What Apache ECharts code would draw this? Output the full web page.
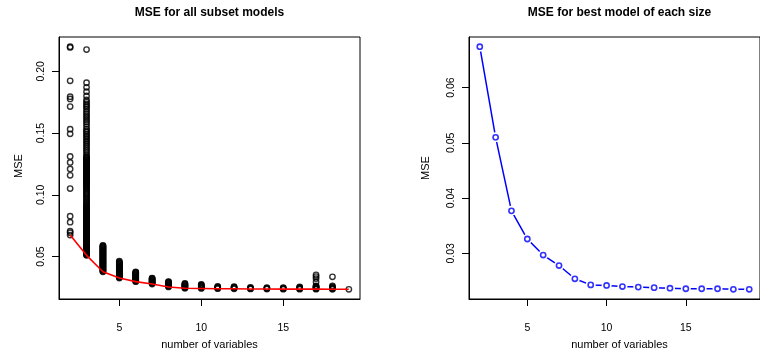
<!DOCTYPE html>
<html><head><meta charset="utf-8">
<script src="https://cdn.jsdelivr.net/npm/echarts@6/dist/echarts.min.js"></script>
<style>html,body{margin:0;padding:0;background:#fff}#c{width:760px;height:353px}</style>
</head><body><div id="c"></div><script>
// ---- data ----
const numVars = [2,3,4,5,6,7,8,9,10,11,12,13,14,15,16,17,18,19];
const bestMSE = [0.0674,0.0510,0.0377,0.0326,0.0297,0.0278,0.0254,0.0243,0.0242,0.0240,0.0239,0.0238,0.0237,0.0236,0.0236,0.0236,0.0235,0.0235];

const mseSize2 = [0.2200,0.2194,0.1924,0.1795,0.1777,0.1715,0.1532,0.1494,0.1311,0.1263,0.1210,0.1158,0.1051,0.0827,0.0779,0.0706,0.0694,0.0674];
const mseSize3 = [0.0510,0.0515,0.0520,0.0525,0.0530,0.0535,0.0540,0.0545,0.0550,0.0555,0.0560,0.0565,0.0570,0.0575,0.0580,0.0585,0.0590,0.0595,0.0600,0.0605,0.0610,0.0615,0.0620,0.0625,0.0630,0.0635,0.0640,0.0645,0.0650,0.0655,0.0660,0.0665,0.0670,0.0675,0.0680,0.0685,0.0690,0.0695,0.0700,0.0705,0.0710,0.0715,0.0720,0.0725,0.0730,0.0735,0.0740,0.0745,0.0750,0.0755,0.0760,0.0765,0.0770,0.0775,0.0780,0.0785,0.0790,0.0795,0.0800,0.0805,0.0810,0.0815,0.0820,0.0825,0.0830,0.0835,0.0840,0.0845,0.0850,0.0855,0.0860,0.0865,0.0870,0.0875,0.0880,0.0885,0.0890,0.0895,0.0900,0.0905,0.0910,
  0.0918,0.0926,0.0935,0.0944,0.0955,0.0965,0.0976,0.0986,0.0996,0.1006,0.1016,0.1026,0.1036,0.1046,0.1056,0.1063,0.1070,0.1077,0.1083,0.1090,0.1097,0.1104,0.1110,0.1117,0.1124,0.1131,0.1137,0.1144,0.1150,0.1157,0.1164,0.1171,0.1177,0.1184,0.1190,0.1197,0.1204,0.1211,0.1218,0.1225,0.1231,0.1238,0.1246,0.1252,0.1258,0.1265,0.1271,0.1278,0.1285,0.1291,0.1298,0.1304,0.1311,
  0.1325,0.1343,0.1360,0.1376,0.1392,0.1408,0.1424,0.1438,0.1452,0.1466,0.1478,0.1490,0.1505,0.1518,0.1532,0.1552,0.1573,0.1590,0.1607,0.1625,0.1640,0.1657,0.1674,0.1692,0.1710,0.1722,0.1736,0.1752,0.1769,0.1801,0.1836,0.1871,0.1908,0.2177];
const mseSize4 = [0.0377,0.0382,0.0387,0.0392,0.0397,0.0402,0.0407,0.0412,0.0417,0.0422,0.0427,0.0432,0.0437,0.0442,0.0447,0.0452,0.0457,0.0462,0.0467,0.0472,0.0477,0.0482,0.0487,0.0492,0.0497,0.0502,0.0507,0.0512,0.0517,0.0522,0.0527,0.0532,0.0537,0.0542,0.0547,0.0552,0.0557,0.0562,0.0567,0.0572,0.0577,0.0582,0.0587,0.0590];
const mseSize5 = [0.0326,0.0331,0.0336,0.0341,0.0346,0.0351,0.0356,0.0361,0.0366,0.0371,0.0376,0.0381,0.0386,0.0391,0.0396,0.0401,0.0406,0.0411,0.0416,0.0421,0.0426,0.0431,0.0436,0.0441,0.0446,0.0451,0.0456,0.0462];
const mseSize6 = [0.0297,0.0302,0.0307,0.0312,0.0317,0.0322,0.0327,0.0332,0.0337,0.0342,0.0347,0.0352,0.0357,0.0362,0.0367,0.0372,0.0375];
const mseSize7 = [0.0278,0.0283,0.0288,0.0293,0.0298,0.0303,0.0308,0.0313,0.0318,0.0323,0.0326];
const mseSize8 = [0.0254,0.0259,0.0264,0.0269,0.0274,0.0279,0.0284,0.0289,0.0294,0.0297];
const mseSize9 = [0.0243,0.0248,0.0253,0.0258,0.0263,0.0268,0.0273,0.0278,0.0282];
const mseSize10 = [0.0242,0.0247,0.0252,0.0257,0.0262,0.0267,0.0271,0.0274];
const mseSize11 = [0.0240,0.0245,0.0250,0.0254,0.0258];
const mseSize12 = [0.0239,0.0244,0.0249,0.0253,0.0256];
const mseSize13 = [0.0238,0.0242,0.0246,0.0250];
const mseSize14 = [0.0237,0.0241,0.0245,0.0249];
const mseSize15 = [0.0236,0.0240,0.0244,0.0249];
const mseSize16 = [0.0236,0.0240,0.0245,0.0250,0.0254];
const mseSize17 = [0.0236,0.0240,0.0245,0.0250,0.0255,0.0259,0.0262,0.0295,0.0322,0.0338,0.0352];
const mseSize18 = [0.0235,0.0240,0.0245,0.0250,0.0255,0.0262,0.0336];
const mseSize19 = [0.0235];

const xTicks = [5,10,15];
const yTicksAll = [0.05,0.10,0.15,0.20];
const yTicksBest = [0.03,0.04,0.05,0.06];
const titleAll = 'MSE for all subset models';
const titleBest = 'MSE for best model of each size';
const xLabel = 'number of variables';
const yLabel = 'MSE';

// ---- build ----
const columns = [mseSize2,mseSize3,mseSize4,mseSize5,mseSize6,mseSize7,mseSize8,mseSize9,mseSize10,mseSize11,mseSize12,mseSize13,mseSize14,mseSize15,mseSize16,mseSize17,mseSize18,mseSize19];
const allPoints = [];
columns.forEach((col,i)=>col.forEach(v=>allPoints.push([numVars[i], v])));
const bestPoints = numVars.map((n,i)=>[n,bestMSE[i]]);

function rng(arr){const lo=Math.min(...arr),hi=Math.max(...arr),d=(hi-lo)*0.04;return [lo-d,hi+d];}
const xr = rng(numVars);
const yrAll = rng(allPoints.map(p=>p[1]));
const yrBest = rng(bestMSE);

const FONT = 'Liberation Sans, Arial, Helvetica, sans-serif';
const G = [{left:59, top:37, width:301, height:262},{left:469, top:37, width:301, height:262}];

function xAx(gi){return {type:'value',gridIndex:gi,min:xr[0],max:xr[1],
  axisLine:{show:true,lineStyle:{color:'#000',width:1}},splitLine:{show:false},
  axisTick:{show:true,length:7,customValues:xTicks,lineStyle:{color:'#000',width:1}},
  axisLabel:{customValues:xTicks,margin:24,fontSize:10.5,color:'#000',fontFamily:FONT}};}
function yAx(gi,r,ticks){return {type:'value',gridIndex:gi,min:r[0],max:r[1],
  axisLine:{show:true,lineStyle:{color:'#000',width:1}},splitLine:{show:false},
  axisTick:{show:true,length:7,customValues:ticks,lineStyle:{color:'#000',width:1}},
  axisLabel:{customValues:ticks,rotate:90,margin:12,fontSize:10.5,color:'#000',fontFamily:FONT,
    formatter:v=>Number(v).toFixed(2)}};}

function txt(t,x,y,opt){return Object.assign({type:'text',x:x,y:y,silent:true,
  style:{text:t,textAlign:'center',textVerticalAlign:'middle',fill:'#000',font:'11px '+FONT}},opt||{});}

const chart = echarts.init(document.getElementById('c'),null,{renderer:'canvas'});
chart.setOption({
  animation:false,
  backgroundColor:'#fff',
  grid:G.map(g=>Object.assign({show:true,borderColor:'#000',borderWidth:1,backgroundColor:'transparent'},g)),
  xAxis:[xAx(0),xAx(1)],
  yAxis:[yAx(0,yrAll,yTicksAll),yAx(1,yrBest,yTicksBest)],
  graphic:[
    {type:'text',x:209.5,y:13,silent:true,style:{text:titleAll,textAlign:'center',textVerticalAlign:'middle',fill:'#000',font:'bold 12px '+FONT}},
    {type:'text',x:619.5,y:13,silent:true,style:{text:titleBest,textAlign:'center',textVerticalAlign:'middle',fill:'#000',font:'bold 12px '+FONT}},
    txt(xLabel,209.5,345),
    txt(xLabel,619.5,345),
    txt(yLabel,19,166,{rotation:Math.PI/2}),
    txt(yLabel,426,168,{rotation:Math.PI/2})
  ],
  series:[
    {type:'scatter',xAxisIndex:0,yAxisIndex:0,data:allPoints,symbol:'circle',symbolSize:5.4,large:false,
      itemStyle:{color:'rgba(0,0,0,0)',borderColor:'#000',borderWidth:1.4},z:2},
    {type:'line',xAxisIndex:0,yAxisIndex:0,data:bestPoints,showSymbol:false,symbol:'none',
      lineStyle:{color:'#ff0000',width:1.6},z:3},
    {type:'line',xAxisIndex:1,yAxisIndex:1,data:bestPoints,symbol:'circle',symbolSize:10,showSymbol:true,
      itemStyle:{color:'#fff',borderWidth:0},lineStyle:{color:'#0000ff',width:1.5},z:2},
    {type:'scatter',xAxisIndex:1,yAxisIndex:1,data:bestPoints,symbol:'circle',symbolSize:5.2,
      itemStyle:{color:'#fff',borderColor:'#0000ff',borderWidth:1.6},z:4}
  ]
});
</script></body></html>
